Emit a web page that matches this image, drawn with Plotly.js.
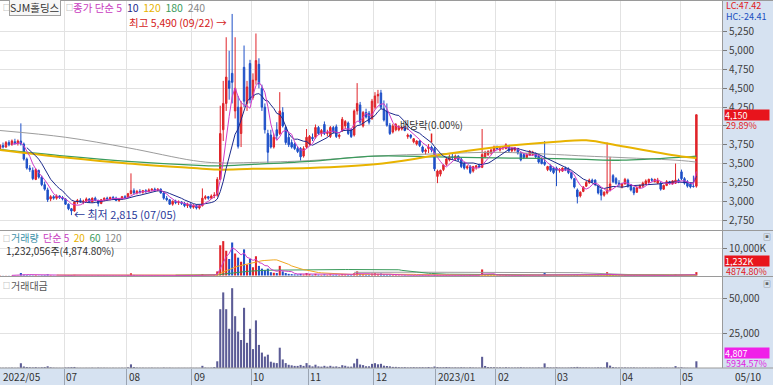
<!DOCTYPE html>
<html><head><meta charset="utf-8">
<script src="https://cdn.plot.ly/plotly-3.0.1.min.js"></script>
<style>html,body{margin:0;padding:0;background:#fff;overflow:hidden}#chart{width:773px;height:385px}</style>
</head><body><div id="chart"></div>
<script>
// ---- data (trading-day index 0 = 2022-05-30 ... 234 = 2023-05-10) ----
const opens = [
3700,3740,3720,3780,3750,3790,3770,3800,3760,3560,
3440,3410,3290,3410,3320,3220,3150,3030,3060,3040,
3070,3050,3030,2960,2900,2870,2990,3010,2990,3000,
3030,2990,3040,3010,2970,3020,3040,3030,3050,3040,
3010,3030,3060,3050,3100,3140,3110,3130,3120,3140,
3130,3150,3160,3150,3160,3110,3040,3020,2960,3000,
2980,2990,2970,2940,2960,2920,2940,2910,2940,3040,
3060,3040,3070,3080,3290,3950,4300,4600,4700,4200,
4250,3900,4780,4300,4830,4380,4610,4820,4500,4250,
3900,3880,3720,3950,3900,4180,3980,3850,3780,3760,
3700,3700,3600,3720,3760,3850,3850,3980,3900,4020,
3900,3860,3980,3990,3860,3940,4000,4040,3950,3880,
4200,4280,4000,4180,4170,4100,4250,4400,4440,4230,
4200,4010,3920,3950,3950,3960,3990,3860,3880,3790,
3760,3800,3720,3660,3700,3720,3700,3330,3360,3420,
3490,3550,3590,3560,3600,3560,3500,3440,3460,3400,
3450,3470,3450,3590,3620,3640,3670,3720,3680,3710,
3700,3730,3670,3680,3700,3640,3620,3580,3610,3620,
3630,3600,3560,3520,3420,3470,3440,3440,3410,3400,
3440,3430,3380,3300,3150,3070,3130,3200,3250,3280,
3280,3200,3150,3080,3110,3150,3340,3300,3240,3190,
3230,3280,3220,3180,3120,3180,3200,3230,3250,3290,
3260,3240,3240,3160,3210,3260,3230,3240,3280,3390,
3300,3260,3230,3200,3200];
const highs = [
3760,3780,3800,3810,3820,3830,3820,4035,3780,3580,
3480,3450,3440,3420,3340,3260,3180,3080,3080,3090,
3080,3070,3040,2970,2910,3000,3030,3040,3020,3050,
3040,3050,3060,3020,3030,3050,3060,3060,3070,3060,
3040,3070,3080,3110,3370,3170,3150,3160,3150,3160,
3170,3170,3180,3170,3170,3120,3070,3030,3010,3020,
3010,3000,2990,2980,2970,2960,2960,2950,3170,3080,
3070,3090,3120,3320,4270,4600,5180,5000,5490,5180,
4400,4330,5070,4600,4880,4700,5230,4900,4550,4300,
3950,3950,3900,4050,4450,4250,4000,3900,3820,3780,
3730,3720,3730,3960,3880,3900,4020,4000,3960,4060,
3950,4000,4000,4020,3900,4120,4080,4060,3970,4220,
4570,4320,4200,4230,4200,4360,4450,4480,4480,4340,
4300,4040,4030,4040,4010,4000,4000,3900,3890,3840,
3810,3810,3740,3700,3760,3740,3720,3420,3420,3490,
3580,3620,3630,3620,3610,3580,3520,3480,3480,3470,
3480,3500,3960,3670,3680,3700,3740,3740,3720,3730,
3770,3750,3720,3720,3710,3660,3640,3640,3680,3670,
3650,3620,3580,3800,3470,3490,3460,3460,3440,3450,
3460,3450,3390,3310,3170,3130,3200,3270,3300,3300,
3290,3210,3170,3130,3780,3590,3360,3320,3280,3240,
3310,3300,3230,3190,3200,3220,3260,3290,3300,3310,
3300,3310,3260,3220,3280,3270,3280,3500,3300,3420,
3320,3280,3250,3340,4150];
const lows = [
3680,3700,3710,3730,3740,3750,3740,3740,3540,3420,
3390,3280,3280,3300,3200,3140,2990,3000,3020,3020,
3030,3010,2950,2880,2815,2860,2960,2980,2960,2990,
2980,2980,3000,2930,2960,3000,3010,3010,3020,3000,
2990,3020,3030,3040,3090,3090,3090,3100,3100,3110,
3120,3130,3130,3130,3100,3020,3000,2950,2940,2960,
2950,2950,2920,2910,2900,2900,2890,2890,2930,3020,
3020,3030,3040,3060,3280,3800,4200,4350,4300,4100,
3700,3720,4250,4200,4300,4350,4550,4500,4200,3900,
3500,3700,3700,3820,3880,3980,3750,3720,3700,3680,
3640,3540,3580,3700,3740,3800,3830,3880,3860,3880,
3860,3840,3900,3840,3830,3920,3960,3880,3840,3860,
4150,4020,3980,4100,4020,4080,4220,4300,4220,4060,
3990,3880,3900,3930,3930,3940,3930,3830,3830,3770,
3740,3720,3640,3620,3640,3650,3400,3240,3330,3400,
3470,3530,3550,3540,3530,3440,3420,3420,3360,3380,
3420,3440,3440,3570,3600,3620,3650,3680,3660,3680,
3690,3650,3650,3660,3620,3530,3560,3570,3600,3600,
3570,3500,3490,3470,3400,3390,3360,3200,3380,3390,
3400,3360,3290,3170,2970,3050,3120,3190,3230,3240,
3200,3090,3010,3060,3090,3130,3240,3220,3200,3170,
3220,3180,3130,3080,3110,3170,3180,3220,3240,3260,
3250,3230,3140,3150,3200,3220,3220,3230,3240,3280,
3220,3180,3170,3180,3180];
const closes = [
3740,3720,3780,3750,3800,3770,3800,3760,3560,3440,
3420,3300,3420,3320,3220,3160,3020,3060,3040,3070,
3050,3030,2960,2900,2870,2990,3010,2990,3000,3030,
2990,3040,3010,2970,3020,3040,3030,3050,3040,3010,
3030,3060,3050,3100,3140,3110,3130,3120,3140,3130,
3150,3160,3150,3160,3110,3040,3020,2960,3000,2980,
2990,2970,2940,2960,2920,2940,2910,2940,3040,3060,
3040,3070,3080,3290,3900,4300,4650,4500,4580,4500,
3730,4250,4330,4520,4350,4610,4870,4560,4250,3950,
3650,3720,3850,3870,4200,4000,3780,3750,3720,3700,
3660,3590,3700,3850,3860,3830,3980,3900,3940,3900,
3920,3980,3920,3860,3880,4090,4060,3900,3860,4200,
4300,4050,4180,4120,4050,4330,4400,4420,4250,4080,
4010,3900,4000,4020,3990,3980,3940,3880,3850,3830,
3800,3740,3660,3680,3720,3680,3430,3400,3410,3480,
3560,3590,3580,3600,3550,3460,3440,3460,3380,3460,
3470,3450,3620,3650,3660,3680,3720,3700,3710,3720,
3750,3670,3700,3710,3640,3550,3580,3620,3660,3650,
3590,3520,3500,3490,3460,3410,3380,3410,3420,3440,
3420,3380,3310,3190,3060,3120,3190,3250,3280,3260,
3220,3110,3080,3120,3150,3230,3260,3240,3220,3230,
3290,3200,3150,3110,3180,3210,3240,3270,3290,3280,
3290,3280,3160,3210,3260,3240,3270,3280,3260,3300,
3240,3200,3190,3195,4150];
// volume in thousand shares
const volumes = [
60,40,50,45,70,40,55,900,300,200,150,120,180,100,150,200,400,150,80,60,50,40,
120,150,200,250,60,50,40,60,50,80,40,100,60,70,50,40,60,40,50,60,40,
150,800,200,80,60,70,50,60,80,50,60,40,100,60,80,50,40,60,40,50,40,60,
40,50,40,500,100,60,80,200,1500,11000,12500,9000,6000,12000,8000,6500,5000,9500,4000,6000,
3000,7000,3500,2500,2000,2500,1200,1000,900,3500,1500,900,600,500,400,400,600,400,900,
500,300,600,300,250,400,250,400,250,300,200,500,400,250,250,800,1500,600,500,300,300,700,
800,600,700,400,350,300,200,200,150,120,150,100,120,150,120,130,150,120,200,100,300,
200,150,150,200,150,100,120,100,150,120,80,150,100,80,70,2200,400,200,150,150,
100,120,80,150,100,80,90,100,150,100,80,100,90,80,120,100,900,150,120,100,
150,100,90,80,100,150,200,250,150,120,120,100,80,100,150,120,100,1200,500,200,120,100,
100,120,90,100,120,80,70,80,90,70,60,70,80,100,70,80,60,70,400,100,
150,60,50,40,25.27,1232.06];
// trading value in million won
const tradeValues = [
220,150,190,170,260,150,210,3400,1070,700,510,400,600,330,490,640,1230,460,240,180,150,120,
360,440,580,740,180,150,120,180,150,240,120,300,180,210,150,120,180,120,150,180,120,
460,2600,620,250,190,220,160,190,250,160,190,130,300,180,240,150,120,180,120,150,120,180,
120,150,120,1550,300,180,240,620,4800,42000,54000,42000,28000,57000,37000,26000,20000,43000,18000,28000,
13500,34000,16500,11000,8200,9500,4500,3800,3500,14500,6100,3500,2300,1900,1500,1500,2200,1500,3500,
1950,1150,2350,1180,980,1560,980,1570,980,1160,770,2000,1600,980,970,3300,6600,2500,2050,1240,1230,2950,
3450,2650,3000,1650,1420,1190,790,800,600,480,590,390,460,570,450,490,550,440,730,370,1070,
680,510,520,710,540,360,430,360,530,420,280,520,350,280,240,8000,1460,730,550,550,
370,440,300,560,370,300,330,370,540,360,290,360,330,290,420,350,3300,520,410,340,
500,340,310,270,340,500,640,780,460,380,390,320,260,320,470,380,310,4100,1700,650,390,320,
320,390,290,320,380,250,220,260,290,230,190,230,260,320,220,260,190,230,1350,330,
500,200,160,130,81,4807];
// long moving averages at sample days
const longMaDays = [0,22,43,65,73,85,104,126,147,167,187,197,209,229,234];
const ma120 = [3680,3580,3500,3440,3420,3430,3440,3490,3610,3720,3790,3810,3730,3595,3575];
const ma180 = [3690,3600,3530,3480,3470,3490,3530,3600,3590,3575,3565,3555,3545,3585,3600];
const ma240 = [3940,3850,3710,3540,3510,3515,3540,3600,3630,3650,3620,3600,3580,3540,3520];
// month axis
const monthStarts = [0,22,43,65,85,104,126,147,167,187,209,229];
const monthLabels = ['2022/05','07','08','09','10','11','12','2023/01','02','03','04','05'];
const priceTicks = [2750,3000,3250,3500,3750,4000,4250,4500,4750,5000,5250];
const priceTickText = ['2,750','3,000','3,250','3,500','3,750','','4,250','4,500','4,750','5,000','5,250'];

// ---- derived ----
const idx = closes.map((_, i) => i);
function sma(arr, n){ return arr.map((v,i)=>{ if(i<n-1) return null; let s=0; for(let k=i-n+1;k<=i;k++) s+=arr[k]; return s/n; }); }
const UP='#e0242a', DN='#1e50c8';
const barCols = closes.map((c,i)=> c>=opens[i] ? UP : DN);
const F = "'Liberation Sans Narrow','Noto Sans CJK KR','Liberation Sans',sans-serif";
const KF = "'Noto Sans CJK KR','Liberation Sans',sans-serif";

const traces = [
 {type:'scatter',mode:'lines',x:longMaDays,y:ma240,line:{color:'#9c9c9c',width:1,shape:'spline'},xaxis:'x',yaxis:'y',hoverinfo:'skip'},
 {type:'scatter',mode:'lines',x:longMaDays,y:ma180,line:{color:'#3b9b5c',width:1.3,shape:'spline'},xaxis:'x',yaxis:'y',hoverinfo:'skip'},
 {type:'scatter',mode:'lines',x:longMaDays,y:ma120,line:{color:'#e8b300',width:2,shape:'spline'},xaxis:'x',yaxis:'y',hoverinfo:'skip'},
 {type:'candlestick',x:idx,open:opens,high:highs,low:lows,close:closes,xaxis:'x',yaxis:'y',whiskerwidth:0,
  increasing:{line:{color:UP,width:1},fillcolor:UP},decreasing:{line:{color:DN,width:1},fillcolor:DN},hoverinfo:'skip'},
 {type:'scatter',mode:'lines',x:idx,y:sma(closes,10),line:{color:'#1c2a8c',width:1},xaxis:'x',yaxis:'y',hoverinfo:'skip'},
 {type:'scatter',mode:'lines',x:idx,y:sma(closes,5),line:{color:'#d03cc8',width:1},xaxis:'x',yaxis:'y',hoverinfo:'skip'},
 {type:'bar',x:idx,y:volumes,marker:{color:barCols,line:{width:0}},width:0.7,xaxis:'x',yaxis:'y2',hoverinfo:'skip'},
 {type:'scatter',mode:'lines',x:idx,y:sma(volumes,120),line:{color:'#9c9c9c',width:1},xaxis:'x',yaxis:'y2',hoverinfo:'skip'},
 {type:'scatter',mode:'lines',x:idx,y:sma(volumes,60),line:{color:'#3b9b5c',width:1},xaxis:'x',yaxis:'y2',hoverinfo:'skip'},
 {type:'scatter',mode:'lines',x:idx,y:sma(volumes,20),line:{color:'#f0a820',width:1},xaxis:'x',yaxis:'y2',hoverinfo:'skip'},
 {type:'scatter',mode:'lines',x:idx,y:sma(volumes,5),line:{color:'#d03cc8',width:1},xaxis:'x',yaxis:'y2',hoverinfo:'skip'},
 {type:'bar',x:idx,y:tradeValues,marker:{color:'#5c5c96',line:{width:0}},width:0.7,xaxis:'x',yaxis:'y3',hoverinfo:'skip'}
];

const W=773,H=385;
const px = v => v/W, py = v => 1 - v/H;
const axY = {side:'right',anchor:'x',ticks:'outside',ticklen:4,tickcolor:'#7a7a7a',showgrid:true,gridcolor:'#e2e2e2',
  zeroline:false,showline:true,linecolor:'#9a9a9a',tickfont:{family:F,size:10,color:'#404040'},fixedrange:true};

const ann = [];
// month labels
monthStarts.forEach((m,k)=>{
  ann.push({xref:'x',yref:'paper',x: m===0 ? -0.011 : m-0.5, y:py(376.5), xanchor:'left', yanchor:'middle', xshift: m===0 ? 1 : 0,
    text:monthLabels[k], showarrow:false, font:{family:F,size:10,color:'#333'}});
});
ann.push({xref:'paper',yref:'paper',x:px(733),y:py(376.5),xanchor:'left',yanchor:'middle',text:'05/10',showarrow:false,font:{family:F,size:10,color:'#333'}});
// top-left legend
ann.push({xref:'paper',yref:'paper',x:px(1),y:py(7.5),xanchor:'left',yanchor:'middle',text:'□',showarrow:false,font:{family:KF,size:7,color:'#888'}});
ann.push({xref:'paper',yref:'paper',x:px(9),y:py(7.5),xanchor:'left',yanchor:'middle',text:'SJM홀딩스',showarrow:false,
  bordercolor:'#a0a0a0',borderwidth:1,borderpad:0,bgcolor:'#f7f7f7',font:{family:KF,size:10.5,color:'#333'}});
ann.push({xref:'paper',yref:'paper',x:px(64),y:py(7.5),xanchor:'left',yanchor:'middle',text:'□',showarrow:false,font:{family:KF,size:7,color:'#888'}});
ann.push({xref:'paper',yref:'paper',x:px(71),y:py(7.5),xanchor:'left',yanchor:'middle',showarrow:false,font:{family:KF,size:10.5},
  text:'<span style="color:#c83cc0">종가 단순 5</span>  <span style="color:#1c2a8c">10</span>  <span style="color:#e8b300">120</span>  <span style="color:#3b9b5c">180</span>  <span style="color:#888">240</span>'});
// volume legend
ann.push({xref:'paper',yref:'paper',x:px(1),y:py(237.5),xanchor:'left',yanchor:'middle',text:'□',showarrow:false,font:{family:KF,size:7,color:'#888'}});
ann.push({xref:'paper',yref:'paper',x:px(9),y:py(237.5),xanchor:'left',yanchor:'middle',showarrow:false,font:{family:KF,size:10},
  text:'<span style="color:#3a8fa8">거래량</span>  <span style="color:#c83cc0">단순 5</span>  <span style="color:#e8b300">20</span>  <span style="color:#3b9b5c">60</span>  <span style="color:#888">120</span>'});
ann.push({xref:'paper',yref:'paper',x:px(4),y:py(250),xanchor:'left',yanchor:'middle',text:'1,232,056주(4,874.80%)',showarrow:false,font:{family:KF,size:10,color:'#333'}});
// value legend
ann.push({xref:'paper',yref:'paper',x:px(1),y:py(285),xanchor:'left',yanchor:'middle',text:'□',showarrow:false,font:{family:KF,size:7,color:'#888'}});
ann.push({xref:'paper',yref:'paper',x:px(9),y:py(285),xanchor:'left',yanchor:'middle',text:'거래대금',showarrow:false,font:{family:KF,size:10,color:'#555'}});
// chart notes
ann.push({xref:'x',yref:'y',x:78,y:5490,xanchor:'right',yanchor:'middle',xshift:-3,yshift:-9,text:'최고 5,490 (09/22) →',showarrow:false,font:{family:KF,size:10.5,color:'#d42020'}});
ann.push({xref:'x',yref:'y',x:24,y:2815,xanchor:'left',yanchor:'middle',xshift:1,yshift:1,text:'← 최저 2,815 (07/05)',showarrow:false,font:{family:KF,size:11,color:'#2a3a9a'}});
ann.push({xref:'x',yref:'y',x:145,y:3780,ax:0,ay:-18,showarrow:true,arrowcolor:'#e02020',arrowhead:0,arrowwidth:1.5,text:'배당락(0.00%)',font:{family:KF,size:10,color:'#333'}});
// right panel labels
const RF = 9;
ann.push({xref:'paper',yref:'paper',x:px(724),y:py(5),xanchor:'left',yanchor:'middle',text:'LC:47.42',showarrow:false,font:{family:F,size:RF,color:'#e02020'}});
ann.push({xref:'paper',yref:'paper',x:px(724),y:py(16),xanchor:'left',yanchor:'middle',text:'HC:-24.41',showarrow:false,font:{family:F,size:RF,color:'#2050c0'}});
ann.push({xref:'paper',yref:'y',x:px(724),y:4150,xanchor:'left',yanchor:'middle',text:'4,150',showarrow:false,bgcolor:'#e8141c',width:44,height:10,align:'left',borderpad:0,font:{family:F,size:RF,color:'#fff'}});
ann.push({xref:'paper',yref:'paper',x:px(724),y:py(125),xanchor:'left',yanchor:'middle',text:'29.89%',showarrow:false,font:{family:F,size:RF,color:'#e02020'}});
ann.push({xref:'paper',yref:'paper',x:px(724),y:py(260.5),xanchor:'left',yanchor:'middle',text:'1,232K',showarrow:false,bgcolor:'#e8141c',width:44,height:10,align:'left',borderpad:0,font:{family:F,size:RF,color:'#fff'}});
ann.push({xref:'paper',yref:'paper',x:px(724),y:py(271),xanchor:'left',yanchor:'middle',text:'4874.80%',showarrow:false,font:{family:F,size:RF,color:'#e02020'}});
ann.push({xref:'paper',yref:'paper',x:px(724),y:py(352.5),xanchor:'left',yanchor:'middle',text:'4,807',showarrow:false,bgcolor:'#f020e8',width:44,height:10,align:'left',borderpad:0,font:{family:F,size:RF,color:'#fff'}});
ann.push({xref:'paper',yref:'paper',x:px(724),y:py(363),xanchor:'left',yanchor:'middle',text:'5934.57%',showarrow:false,font:{family:F,size:RF,color:'#e020e0'}});
ann.push({xref:'paper',yref:'paper',x:px(767),y:py(236),xanchor:'center',yanchor:'middle',text:'▣',showarrow:false,font:{family:KF,size:8,color:'#666'}});
ann.push({xref:'paper',yref:'paper',x:px(767),y:py(283),xanchor:'center',yanchor:'middle',text:'▣',showarrow:false,font:{family:KF,size:8,color:'#666'}});

const shapes = [
 {type:'rect',xref:'paper',yref:'paper',x0:px(722),x1:1,y0:0,y1:1,fillcolor:'#d6e2f1',line:{width:0},layer:'below'},
 {type:'rect',xref:'paper',yref:'paper',x0:0,x1:1,y0:0,y1:py(368),fillcolor:'#d6e2f1',line:{width:0},layer:'below'},
 {type:'line',xref:'paper',yref:'paper',x0:0,x1:1,y0:py(0.5),y1:py(0.5),line:{color:'#9a9a9a',width:1}},
 {type:'line',xref:'paper',yref:'paper',x0:0,x1:1,y0:py(230.5),y1:py(230.5),line:{color:'#9a9a9a',width:1}},
 {type:'line',xref:'paper',yref:'paper',x0:0,x1:1,y0:py(276.5),y1:py(276.5),line:{color:'#9a9a9a',width:1}},
 {type:'line',xref:'paper',yref:'paper',x0:0,x1:1,y0:py(368),y1:py(368),line:{color:'#9a9a9a',width:1}}
];

const layout = {
  width:W,height:H,margin:{l:0,r:0,t:0,b:0},paper_bgcolor:'#fff',plot_bgcolor:'#fff',
  showlegend:false,dragmode:false,bargap:0.3,
  xaxis:{domain:[0,px(722)],range:[-0.011,242.61],anchor:'y3',tickvals:monthStarts.slice(1).map(m=>m-0.5),
    ticks:'outside',ticklen:17,tickcolor:'#9aa4b2',showticklabels:false,showgrid:true,gridcolor:'#e2e2e2',
    zeroline:false,showline:false,rangeslider:{visible:false},fixedrange:true},
  yaxis:Object.assign({},axY,{domain:[1-230/H,1-1/H],range:[2617,5662],tickvals:priceTicks,ticktext:priceTickText}),
  yaxis2:Object.assign({},axY,{domain:[1-276/H,1-231/H],range:[-180,16180],tickvals:[10000],ticktext:['10,000K']}),
  yaxis3:Object.assign({},axY,{domain:[1-368/H,1-277/H],range:[0,65000],tickvals:[25000,50000],ticktext:['25,000','50,000']}),
  annotations:ann,shapes:shapes
};
Plotly.newPlot('chart',traces,layout,{staticPlot:true,displayModeBar:false});
</script></body></html>
